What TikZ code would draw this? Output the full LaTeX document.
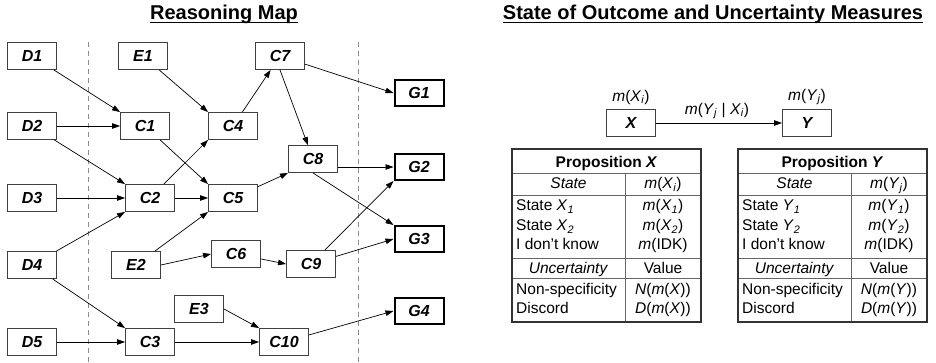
\documentclass[tikz,border=0pt]{standalone}
\usepackage{fontspec}
\setmainfont{Liberation Sans}
\usetikzlibrary{arrows.meta}

\begin{document}
\begin{tikzpicture}[x=1pt, y=-1pt,
    box/.style={rectangle, draw=black!75, line width=0.9pt, minimum width=49pt, minimum height=27pt, inner sep=0pt, font=\fontsize{16}{19}\selectfont\bfseries\itshape},
    goal/.style={box, draw=black, line width=2pt, minimum width=49pt, minimum height=26pt},
    arr/.style={-{Triangle[length=8pt,width=5.5pt]}, line width=0.7pt},
    sep/.style={black!45, line width=1pt, dash pattern=on 5pt off 4pt},
    lbl/.style={inner sep=0pt, font=\fontsize{15.5}{18}\selectfont},
    cell/.style={inner sep=0pt, anchor=base, font=\fontsize{15.5}{18}\selectfont},
    title/.style={inner sep=0pt, anchor=base, font=\fontsize{20}{24}\selectfont\bfseries},
    outer/.style={black!80, line width=1.2pt},
    inner/.style={black!60, line width=0.8pt}]

    \useasboundingbox (0,0) rectangle (936,363);

    % Titel
    \node[title] (t1) at (224,20) {Reasoning Map};
    \node[title] (t2) at (713,20) {State of Outcome and Uncertainty Measures};
    \draw[line width=1.2pt] ([yshift=-2.5pt]t1.base west) -- ([yshift=-2.5pt]t1.base east);
    \draw[line width=1.2pt] ([yshift=-2.5pt]t2.base west) -- ([yshift=-2.5pt]t2.base east);

    % Trennlinien
    \draw[sep] (88,42) -- (88,363);
    \draw[sep] (358,42) -- (358,363);

    % Daten
    \node[box] (D1) at (32,56) {D1};
    \node[box] (D2) at (32,126) {D2};
    \node[box] (D3) at (32,198) {D3};
    \node[box] (D4) at (32,265) {D4};
    \node[box] (D5) at (32,342) {D5};

    % Evidenz
    \node[box] (E1) at (143,56) {E1};
    \node[box] (E2) at (136,265) {E2};
    \node[box] (E3) at (199,309) {E3};

    % Schlussfolgerungen
    \node[box] (C1) at (145,126) {C1};
    \node[box] (C2) at (150,198) {C2};
    \node[box] (C3) at (150,342) {C3};
    \node[box] (C4) at (233,126) {C4};
    \node[box] (C5) at (233,198) {C5};
    \node[box] (C6) at (236,254) {C6};
    \node[box] (C7) at (280,56) {C7};
    \node[box] (C8) at (313,159) {C8};
    \node[box] (C9) at (311,264) {C9};
    \node[box] (C10) at (284,342) {C10};

    % Ziele
    \node[goal] (G1) at (419,93) {G1};
    \node[goal] (G2) at (419,167) {G2};
    \node[goal] (G3) at (419,239) {G3};
    \node[goal] (G4) at (419,311) {G4};

    % Kanten
    \draw[arr] (D1) -- (C1.north west);
    \draw[arr] (D2) -- (C1);
    \draw[arr] (D2) -- (C2.north west);
    \draw[arr] (D3) -- (C2);
    \draw[arr] (D4) -- (C2.south west);
    \draw[arr] (D4) -- (C3.north west);
    \draw[arr] (D5) -- (C3);
    \draw[arr] (E1) -- (C4.north west);
    \draw[arr] (C1) -- (C5.north west);
    \draw[arr] (C2) -- (C4.south west);
    \draw[arr] (C2) -- (C5);
    \draw[arr] (E2) -- (C5.south west);
    \draw[arr] (E2.east) -- (C6.west);
    \draw[arr] (C4) -- (C7);
    \draw[arr] (C7) -- (G1.west);
    \draw[arr] (C7.south) -- (C8);
    \draw[arr] (C5) -- (C8.south west);
    \draw[arr] (C6) -- (C9.west);
    \draw[arr] (C8.east |- G2.west) -- (G2.west);
    \draw[arr] (C8.south) -- (G3.north west);
    \draw[arr] (C9) -- (G2.south west);
    \draw[arr] (C9) -- (G3.west);
    \draw[arr] (E3.east) -- (C10.north west);
    \draw[arr] (C3) -- (C10);
    \draw[arr] (C10) -- (G4.west);

    % Propositionen X und Y
    \node[box] (X) at (631,123) {X};
    \node[box] (Y) at (807,123) {Y};
    \node[lbl] (mX) at (631,97) {\textit{m}(\textit{X}\textsubscript{\textit{i}})};
    \node[lbl] (mY) at (807,97) {\textit{m}(\textit{Y}\textsubscript{\textit{j}})};
    \node[lbl] (mYX) at (717,111) {\textit{m}(\textit{Y}\textsubscript{\textit{j}} | \textit{X}\textsubscript{\textit{i}})};
    \draw[arr] (X) -- (Y);

    % Tabellen
    \foreach \lft/\pn/\ix/\tname in {512/X/i/px, 738/Y/j/py} {
        \draw[inner] (\lft,173) -- (\lft+189,173);
        \draw[inner] (\lft,195) -- (\lft+189,195);
        \draw[inner] (\lft,258) -- (\lft+189,258);
        \draw[inner] (\lft,278) -- (\lft+189,278);
        \draw[inner] (\lft+113,173) -- (\lft+113,322);
        \draw[outer] (\lft,149) rectangle (\lft+189,322);

        \node[cell] (\tname-head) at (\lft+94.5,168) {\textbf{Proposition \textit{\pn}}};
        \node[cell] (\tname-state) at (\lft+56.5,189) {\textit{State}};
        \node[cell] (\tname-mass) at (\lft+151,189) {\textit{m}(\textit{\pn}\textsubscript{\textit{\ix}})};
        \node[cell, anchor=base west] (\tname-s1) at (\lft+4,211) {State \textit{\pn}\textsubscript{\textit{1}}};
        \node[cell] (\tname-m1) at (\lft+151,211) {\textit{m}(\textit{\pn}\textsubscript{\textit{1}})};
        \node[cell, anchor=base west] (\tname-s2) at (\lft+4,231) {State \textit{\pn}\textsubscript{\textit{2}}};
        \node[cell] (\tname-m2) at (\lft+151,231) {\textit{m}(\textit{\pn}\textsubscript{\textit{2}})};
        \node[cell, anchor=base west] (\tname-idk) at (\lft+4,249) {I don't know};
        \node[cell] (\tname-midk) at (\lft+151,249) {\textit{m}(IDK)};
        \node[cell] (\tname-unc) at (\lft+56.5,273) {\textit{Uncertainty}};
        \node[cell] (\tname-val) at (\lft+151,273) {Value};
        \node[cell, anchor=base west] (\tname-ns) at (\lft+4,294) {Non-specificity};
        \node[cell] (\tname-nv) at (\lft+151,294) {\textit{N}(\textit{m}(\textit{\pn}))};
        \node[cell, anchor=base west] (\tname-dc) at (\lft+4,313) {Discord};
        \node[cell] (\tname-dv) at (\lft+151,313) {\textit{D}(\textit{m}(\textit{\pn}))};
    }
\end{tikzpicture}
\end{document}
